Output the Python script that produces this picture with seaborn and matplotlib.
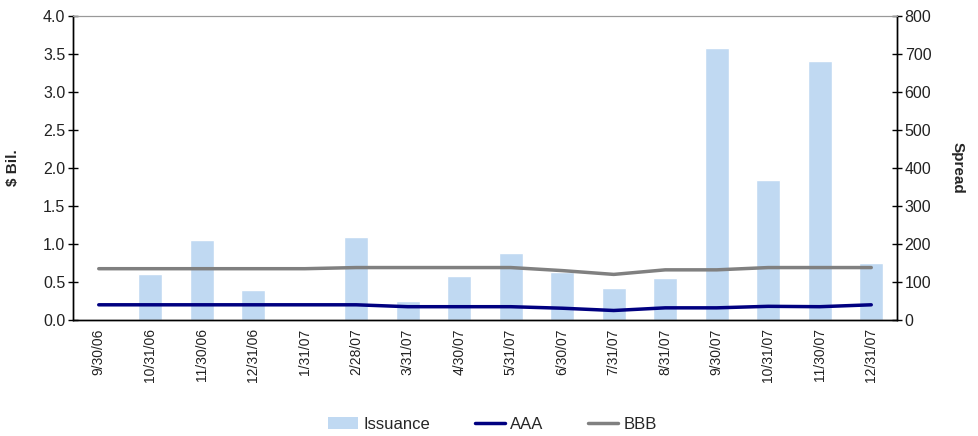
import numpy as np
import pandas as pd
import matplotlib
matplotlib.use("Agg")
import matplotlib.pyplot as plt
import seaborn as sns
from matplotlib.lines import Line2D
from matplotlib.patches import Patch

dates = ["9/30/06", "10/31/06", "11/30/06", "12/31/06", "1/31/07", "2/28/07",
         "3/31/07", "4/30/07", "5/31/07", "6/30/07", "7/31/07", "8/31/07",
         "9/30/07", "10/31/07", "11/30/07", "12/31/07"]
issuance = [0.0, 0.60, 1.05, 0.40, 0.0, 1.09, 0.25, 0.58, 0.88, 0.63, 0.42, 0.55,
            3.58, 1.84, 3.41, 0.75]
aaa = [40, 40, 40, 40, 40, 40, 35, 35, 35, 31, 25, 32, 32, 36, 35, 40]
bbb = [135, 135, 135, 135, 135, 138, 138, 138, 138, 130, 120, 132, 132, 138, 138, 138]

df = pd.DataFrame({"date": dates, "issuance": issuance, "AAA": aaa, "BBB": bbb})
df["pos"] = np.arange(len(df))

sns.set_theme(style="white")
plt.rcParams["font.family"] = ["Liberation Sans", "DejaVu Sans"]

fig = plt.figure(figsize=(9.79, 4.36), dpi=100)
ax = fig.add_axes([73/979, 1-320/436, (897-73)/979, (320-16)/436])

bar_color = "#C0D9F2"
sns.barplot(data=df, x="date", y="issuance", color=bar_color, width=0.46,
            saturation=1, ax=ax, order=dates)
ax.set_xlim(-0.5, len(dates)-0.5)
ax.set_ylim(0, 4.0)
ax.set_yticks(np.arange(0, 4.01, 0.5))
ax.set_yticklabels([f"{v:.1f}" for v in np.arange(0, 4.01, 0.5)], fontsize=11.5, color="#222222")
ax.set_xticks(np.arange(len(dates)))
ax.set_xticklabels(dates, rotation=90, fontsize=10, color="#222222")
ax.tick_params(axis="x", which="major", length=0, pad=6)
ax.set_xticks(np.arange(-0.5, len(dates)), minor=True)
ax.tick_params(axis="x", which="minor", length=6, width=1, color="black", direction="out")
ax.tick_params(axis="y", length=7, width=1, direction="inout", color="black", pad=2)
ax.set_xlabel("")
ax.set_ylabel("$ Bil.", fontsize=11, fontweight="bold")
ax.yaxis.set_label_coords(-0.064, 0.5)

ax2 = ax.twinx()
sns.lineplot(data=df, x="pos", y="AAA", color="#000080", linewidth=2.5, ax=ax2, legend=False)
sns.lineplot(data=df, x="pos", y="BBB", color="#808080", linewidth=2.5, ax=ax2, legend=False)
ax2.set_xlim(-0.5, len(dates)-0.5)
ax2.set_ylim(0, 800)
ax2.set_yticks(np.arange(0, 801, 100))
ax2.set_yticklabels([str(v) for v in range(0, 801, 100)], fontsize=11.5, color="#222222")
ax2.tick_params(axis="y", length=7, width=1, direction="inout", color="black", pad=2)
ax2.set_xlabel("")
ax2.set_ylabel("Spread", fontsize=11, fontweight="bold", rotation=270)
ax2.yaxis.set_label_coords(1.0825, 0.5)

for a in (ax, ax2):
    for side in ("left", "right", "bottom"):
        a.spines[side].set_color("black")
        a.spines[side].set_linewidth(1)
    a.spines["top"].set_color("#999999")
    a.spines["top"].set_linewidth(0.8)

handles = [Patch(facecolor=bar_color, edgecolor="none"),
           Line2D([0], [0], color="#000080", linewidth=2.5),
           Line2D([0], [0], color="#808080", linewidth=2.5)]
fig.legend(handles, ["Issuance", "AAA", "BBB"], loc="center", bbox_to_anchor=(0.503, 0.027),
           ncol=3, frameon=False, fontsize=12, handlelength=1.8, handleheight=0.7,
           handletextpad=0.3, columnspacing=2.7)

fig.savefig("out.png", dpi=100)
